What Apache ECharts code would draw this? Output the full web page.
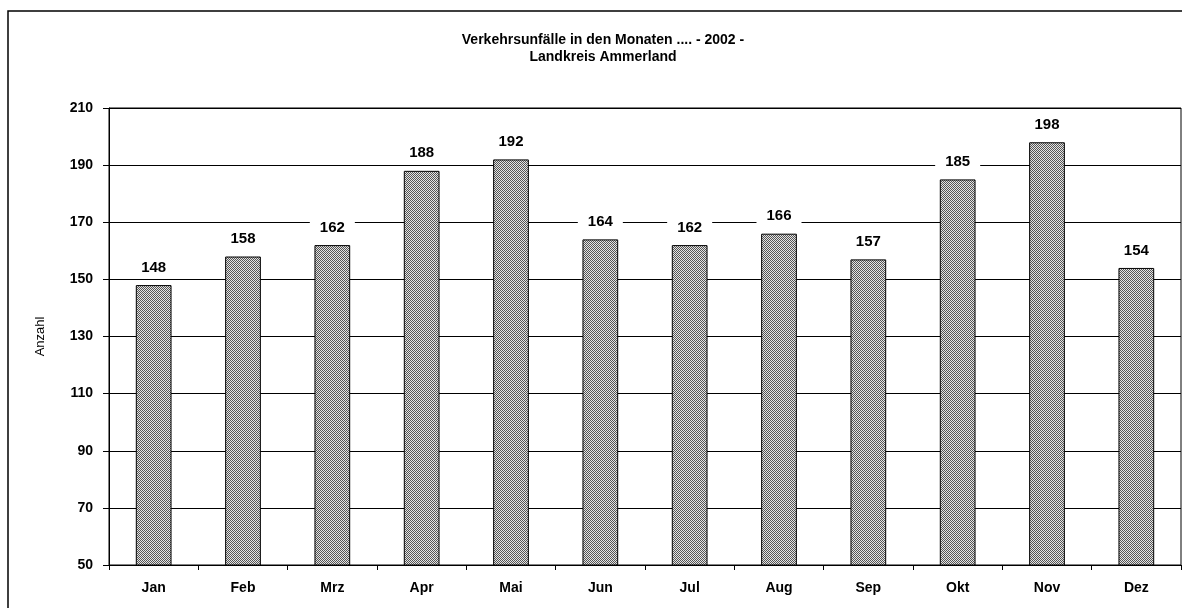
<!DOCTYPE html>
<html>
<head>
<meta charset="utf-8">
<script src="https://cdn.jsdelivr.net/npm/echarts@6/dist/echarts.min.js"></script>
<style>html,body{margin:0;padding:0;background:#fff}#c{width:1182px;height:608px}</style>
</head>
<body>
<div id="c"></div>
<script>
var categories = ['Jan','Feb','Mrz','Apr','Mai','Jun','Jul','Aug','Sep','Okt','Nov','Dez'];
var values = [148,158,162,188,192,164,162,166,157,185,198,154];
var titleLines = ['Verkehrsunfälle in den Monaten .... - 2002 -','Landkreis Ammerland'];
var yAxisName = 'Anzahl';
var yMin = 50, yMax = 210, yStep = 20;

function hatch() {
  var c = document.createElement('canvas');
  c.width = 4; c.height = 4;
  var g = c.getContext('2d');
  g.fillStyle = '#e4e4e4';
  g.fillRect(0,0,4,4);
  g.fillStyle = '#555';
  for (var i = 0; i < 4; i++) { g.fillRect(i, i, 1, 1); g.fillRect((i+2)%4, i, 1, 1); }
  return c;
}

var font = '"Liberation Sans", Arial, sans-serif';
var chart = echarts.init(document.getElementById('c'), null, {renderer:'canvas'});
chart.setOption({
  animation: false,
  backgroundColor: '#fff',
  title: {
    text: titleLines.join('\n'),
    left: 598, top: 27, textAlign: 'center',
    textStyle: {fontFamily: font, fontWeight: 'bold', fontSize: 14, lineHeight: 17, color: '#000'}
  },
  graphic: [{
    type: 'rect', silent: true, z: -1,
    shape: {x: 8, y: 11, width: 1200, height: 620},
    style: {fill: 'none', stroke: '#000', lineWidth: 1.5}
  }],
  grid: {left: 109, right: 1, top: 108, bottom: 43, show: true, borderColor: '#000', borderWidth: 1, backgroundColor: 'transparent'},
  xAxis: {
    type: 'category', data: categories,
    axisLine: {lineStyle: {color: '#000', width: 1}},
    axisTick: {show: true, length: 5, interval: 0, lineStyle: {color: '#000'}},
    axisLabel: {fontFamily: font, fontWeight: 'bold', fontSize: 14, color: '#000', margin: 16, interval: 0}
  },
  yAxis: {
    type: 'value', min: yMin, max: yMax, interval: yStep,
    name: yAxisName, nameLocation: 'middle', nameGap: 62, nameRotate: 90,
    nameTextStyle: {fontFamily: font, fontSize: 13, color: '#000'},
    axisLine: {show: true, lineStyle: {color: '#000', width: 1}},
    axisTick: {show: true, length: 6, lineStyle: {color: '#000'}},
    axisLabel: {fontFamily: font, fontWeight: 'bold', fontSize: 14, color: '#000', margin: 16},
    splitLine: {show: true, lineStyle: {color: '#000', width: 1}}
  },
  series: [{
    type: 'bar', data: values, barWidth: '40%',
    itemStyle: {color: {image: hatch(), repeat: 'repeat'}, borderColor: '#000', borderWidth: 1},
    label: {
      show: true, position: 'top', distance: 9,
      fontFamily: font, fontWeight: 'bold', fontSize: 15, color: '#000',
      backgroundColor: '#fff', padding: [1, 10]
    }
  }]
});
</script>
</body>
</html>
